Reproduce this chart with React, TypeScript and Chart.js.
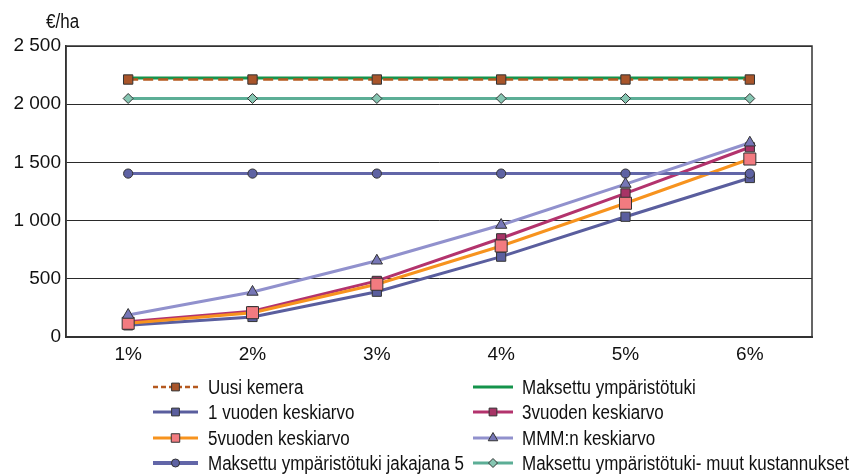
import React, { useEffect, useRef } from "react";
import { Chart, registerables } from "chart.js";
import { drawPoint } from "chart.js/helpers";

Chart.register(...registerables);

// Interest rate categories on the x axis
const categories = ["1%", "2%", "3%", "4%", "5%", "6%"];

// €/ha per scenario
const uusiKemera = [2212, 2212, 2212, 2212, 2212, 2212];
const maksettuTuki = [2225, 2225, 2225, 2225, 2225, 2225];
const vuosi1 = [100, 172, 389, 690, 1033, 1366];
const vuosi3 = [132, 222, 482, 848, 1234, 1630];
const vuosi5 = [118, 209, 453, 782, 1149, 1529];
const mmm = [189, 387, 655, 962, 1314, 1669];
const jakajana5 = [1404, 1404, 1404, 1404, 1404, 1404];
const muutKustannukset = [2049, 2049, 2049, 2049, 2049, 2049];

const yTicks = [0, 500, 1000, 1500, 2000, 2500];

const FONT = "'Liberation Sans', Arial, Helvetica, sans-serif";

type Series = {
  label: string;
  data: number[];
  color: string;
  pointFill: string;
  pointStyle: string | false;
  radius: number;
  legendRadius: number;
  dash?: number[];
  legendDash?: number[];
  width: number;
  legendWidth: number;
  order: number;
  col: number;
  row: number;
};

const series: Series[] = [
  { label: "Uusi kemera", data: uusiKemera, color: "#B5591F", pointFill: "#A9552A", pointStyle: "rect", radius: 6.6, legendRadius: 5.5, dash: [10, 5], legendDash: [5, 3], width: 2.5, legendWidth: 2.5, order: 5, col: 0, row: 0 },
  { label: "Maksettu ympäristötuki", data: maksettuTuki, color: "#14934B", pointFill: "#14934B", pointStyle: false, radius: 0, legendRadius: 0, width: 3, legendWidth: 3, order: 6, col: 1, row: 0 },
  { label: "1 vuoden keskiarvo", data: vuosi1, color: "#5A5E9E", pointFill: "#5A5E9E", pointStyle: "rect", radius: 6.5, legendRadius: 5.5, width: 3, legendWidth: 3, order: 4, col: 0, row: 1 },
  { label: "3vuoden keskiarvo", data: vuosi3, color: "#B3336D", pointFill: "#A83466", pointStyle: "rect", radius: 6.5, legendRadius: 5.5, width: 3, legendWidth: 3, order: 3, col: 1, row: 1 },
  { label: "5vuoden keskiarvo", data: vuosi5, color: "#F7931E", pointFill: "#F27B80", pointStyle: "rect", radius: 8.5, legendRadius: 6, width: 3, legendWidth: 3, order: 2, col: 0, row: 2 },
  { label: "MMM:n keskiarvo", data: mmm, color: "#9191CD", pointFill: "#7676B6", pointStyle: "triangle", radius: 6.5, legendRadius: 5.5, width: 3, legendWidth: 3, order: 0, col: 1, row: 2 },
  { label: "Maksettu ympäristötuki jakajana 5", data: jakajana5, color: "#6266A8", pointFill: "#5E62A3", pointStyle: "circle", radius: 4.6, legendRadius: 4, width: 3, legendWidth: 4, order: 1, col: 0, row: 3 },
  { label: "Maksettu ympäristötuki- muut kustannukset", data: muutKustannukset, color: "#5CAE96", pointFill: "#86C6B2", pointStyle: "rectRot", radius: 5, legendRadius: 4.5, width: 3, legendWidth: 3, order: 7, col: 1, row: 3 },
];

const legendCols = [
  { lineFrom: 153, lineTo: 198, textX: 208 },
  { lineFrom: 473, lineTo: 513, textX: 522 },
];
const legendRows = [387, 412, 438, 463];

// Draws text squeezed horizontally, the way the narrow print face reads
function narrowText(ctx: CanvasRenderingContext2D, text: string, x: number, y: number, size: number, squeeze: number) {
  ctx.save();
  ctx.translate(x, y);
  ctx.scale(squeeze, 1);
  ctx.fillStyle = "#111";
  ctx.font = `${size}px ${FONT}`;
  ctx.textBaseline = "middle";
  ctx.textAlign = "left";
  ctx.fillText(text, 0, 0);
  ctx.restore();
}

const framePlugin = {
  id: "frameAndLegend",
  beforeDatasetsDraw(chart: any) {
    const { ctx, chartArea } = chart;
    ctx.save();
    ctx.strokeStyle = "#333";
    ctx.lineWidth = 1.5;
    ctx.strokeRect(chartArea.left, chartArea.top, chartArea.right - chartArea.left, chartArea.bottom - chartArea.top);
    ctx.restore();
  },
  afterDraw(chart: any) {
    const { ctx } = chart;
    ctx.save();
    // unit label above the value axis
    narrowText(ctx, "€/ha", 46, 22, 20, 0.85);

    // legend in two columns
    series.forEach((s) => {
      const c = legendCols[s.col];
      const y = legendRows[s.row];
      ctx.save();
      ctx.strokeStyle = s.color;
      ctx.lineWidth = s.legendWidth;
      ctx.setLineDash(s.legendDash || []);
      ctx.beginPath();
      ctx.moveTo(c.lineFrom, y);
      ctx.lineTo(c.lineTo, y);
      ctx.stroke();
      ctx.restore();
      if (s.pointStyle) {
        ctx.save();
        ctx.fillStyle = s.pointFill;
        ctx.strokeStyle = "#333";
        ctx.lineWidth = 1;
        drawPoint(ctx, { pointStyle: s.pointStyle as any, radius: s.legendRadius, rotation: 0, borderWidth: 1 }, (c.lineFrom + c.lineTo) / 2, y);
        ctx.restore();
      }
      narrowText(ctx, s.label, c.textX, y + 1, 20, 0.85);
    });
    ctx.restore();
  },
};

export default function App() {
  const ref = useRef<HTMLCanvasElement>(null);

  useEffect(() => {
    if (!ref.current) return;
    const chart = new Chart(ref.current, {
      type: "line",
      data: {
        labels: categories,
        datasets: series.map((s) => ({
          label: s.label,
          data: s.data,
          borderColor: s.color,
          backgroundColor: s.pointFill,
          borderWidth: s.width,
          borderDash: s.dash || [],
          pointStyle: s.pointStyle as any,
          pointRadius: s.radius,
          pointBackgroundColor: s.pointFill,
          pointBorderColor: "#333",
          pointBorderWidth: 1,
          tension: 0,
          fill: false,
          order: s.order,
        })),
      },
      options: {
        animation: false,
        responsive: false,
        maintainAspectRatio: false,
        layout: { padding: { top: 46, right: 45, bottom: 107, left: 0 } },
        plugins: {
          legend: { display: false },
          tooltip: { enabled: false },
        },
        scales: {
          x: {
            type: "category",
            offset: true,
            grid: { display: false, drawTicks: false },
            border: { display: true, color: "#333", width: 2 },
            ticks: { color: "#111", font: { family: FONT, size: 19 }, padding: 6 },
            afterFit(scale: any) {
              scale.height = 30;
            },
          },
          y: {
            min: 0,
            max: 2500,
            afterBuildTicks(scale: any) {
              scale.ticks = yTicks.map((v) => ({ value: v }));
            },
            grid: { color: "#2a2a2a", lineWidth: 1, drawTicks: false },
            border: { display: true, color: "#333", width: 1.5 },
            ticks: {
              color: "#111",
              font: { family: FONT, size: 19 },
              padding: 5,
              callback: (v: any) => String(v).replace(/\B(?=(\d{3})+(?!\d))/g, " "),
            },
            afterFit(scale: any) {
              scale.width = 66;
            },
          },
        },
      },
      plugins: [framePlugin],
    });
    return () => chart.destroy();
  }, []);

  return (
    <div style={{ position: "fixed", left: 0, top: 0, width: 857, height: 474, background: "#fff" }}>
      <canvas ref={ref} width={857} height={474} style={{ width: 857, height: 474 }} />
    </div>
  );
}
